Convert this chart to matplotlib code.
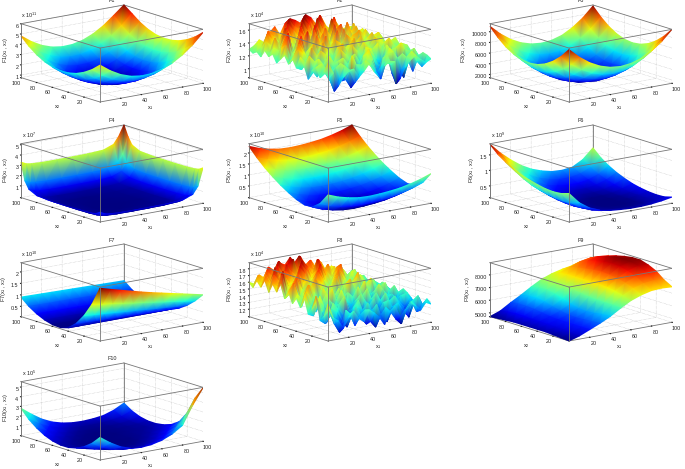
import numpy as np
import matplotlib
matplotlib.use('Agg')
import matplotlib.pyplot as plt
from matplotlib.collections import TriMesh
from matplotlib.tri import Triangulation
from mpl_toolkits.mplot3d import proj3d

plt.rcParams['font.family'] = ['Liberation Sans', 'DejaVu Sans']
plt.rcParams['mathtext.default'] = 'regular'
plt.rcParams['grid.color'] = '#aaaaaa'
plt.rcParams['grid.linestyle'] = ':'
plt.rcParams['grid.linewidth'] = 0.35

# grids: smooth panels 11 points, noisy ones 21, F4 packed towards its steep edges
x_smooth = [0, 10, 20, 30, 40, 50, 60, 70, 80, 90, 100]
x_noisy = [0, 5, 10, 15, 20, 25, 30, 35, 40, 45, 50, 55, 60, 65, 70, 75, 80, 85, 90, 95, 100]
x_f4 = [0, 5, 10, 20, 35, 50, 65, 80, 90, 95, 100]
xy_ticks = [20, 40, 60, 80, 100]

# rows are x2 = 0..100, columns x1 = 0..100, in the units of the z ticks
f1 = [[4.34, 3.61, 3.06, 2.71, 2.56, 2.60, 2.83, 3.26, 3.88, 4.69, 5.70],
      [3.67, 2.94, 2.39, 2.04, 1.89, 1.93, 2.16, 2.59, 3.21, 4.02, 5.03],
      [3.17, 2.44, 1.89, 1.54, 1.39, 1.43, 1.66, 2.09, 2.71, 3.52, 4.53],
      [2.82, 2.09, 1.54, 1.19, 1.04, 1.08, 1.31, 1.74, 2.36, 3.17, 4.18],
      [2.63, 1.90, 1.35, 1.00, 0.85, 0.89, 1.12, 1.55, 2.17, 2.98, 3.99],
      [2.60, 1.87, 1.32, 0.97, 0.82, 0.86, 1.09, 1.52, 2.14, 2.95, 3.96],
      [2.72, 1.99, 1.44, 1.09, 0.94, 0.98, 1.21, 1.64, 2.26, 3.07, 4.08],
      [3.01, 2.28, 1.73, 1.38, 1.23, 1.27, 1.50, 1.93, 2.55, 3.36, 4.37],
      [3.45, 2.72, 2.17, 1.82, 1.67, 1.71, 1.94, 2.37, 2.99, 3.80, 4.81],
      [4.05, 3.32, 2.77, 2.42, 2.27, 2.31, 2.54, 2.97, 3.59, 4.40, 5.41],
      [4.81, 4.08, 3.53, 3.18, 3.03, 3.07, 3.30, 3.73, 4.35, 5.16, 6.00]]

f2 = [[1.46, 1.3, 1.08, 1.2, 1.28, 1.3, 1.16, 1.24, 1.34, 1.2, 1.1, 1.26, 1.32, 1.3, 1.02, 1.18, 1.28, 1.34, 1.26, 1.2, 1.24],
      [1.32, 1.2, 0.98, 1.16, 1.34, 1.26, 1.06, 1.2, 1.36, 1.28, 1.18, 1.04, 1.28, 1.24, 0.92, 1.12, 1.3, 1.38, 1.22, 1.12, 1.28],
      [1.2, 1.26, 1.12, 1.3, 1.36, 1.1, 0.96, 1.3, 1.28, 1.34, 1.32, 1.12, 1.2, 1.36, 1.06, 1.28, 1.34, 1.24, 1.04, 1.26, 1.3],
      [1.34, 1.38, 1.28, 1.24, 1.18, 1.06, 1.24, 1.42, 1.12, 1.22, 1.4, 1.3, 1.08, 1.3, 1.34, 1.36, 1.1, 0.94, 1.2, 1.36, 1.22],
      [1.28, 1.16, 1.32, 1.14, 1.28, 1.34, 1.38, 1.26, 1.02, 1.16, 1.36, 1.44, 1.22, 1.14, 1.28, 1.4, 1.18, 1.08, 1.34, 1.3, 1.18],
      [1.12, 1.22, 1.4, 1.3, 1.42, 1.3, 1.2, 1.12, 1.3, 1.38, 1.24, 1.28, 1.36, 1.26, 1.04, 1.24, 1.34, 1.36, 1.42, 1.2, 1.26],
      [1.3, 1.44, 1.34, 1.18, 1.26, 1.12, 1.34, 1.46, 1.36, 1.24, 1.1, 1.2, 1.42, 1.38, 1.2, 1.16, 1.4, 1.24, 1.28, 1.38, 1.34],
      [1.42, 1.32, 1.16, 1.28, 1.46, 1.38, 1.22, 1.3, 1.18, 1.34, 1.46, 1.36, 1.26, 1.16, 1.34, 1.42, 1.3, 1.12, 1.36, 1.3, 1.2],
      [1.24, 1.2, 1.3, 1.5, 1.36, 1.18, 1.4, 1.24, 1.44, 1.48, 1.3, 1.18, 1.32, 1.44, 1.36, 1.26, 1.2, 1.38, 1.44, 1.22, 1.32],
      [1.36, 1.48, 1.42, 1.3, 1.2, 1.32, 1.52, 1.36, 1.28, 1.2, 1.36, 1.42, 1.5, 1.3, 1.18, 1.34, 1.46, 1.4, 1.26, 1.36, 1.4],
      [1.26, 1.34, 1.54, 1.4, 1.28, 1.5, 1.3, 1.26, 1.38, 1.5, 1.44, 1.28, 1.24, 1.4, 1.48, 1.36, 1.24, 1.32, 1.42, 1.28, 1.3],
      [1.38, 1.24, 1.36, 1.58, 1.34, 1.42, 1.24, 1.44, 1.56, 1.36, 1.26, 1.36, 1.52, 1.44, 1.3, 1.22, 1.4, 1.48, 1.3, 1.34, 1.22],
      [1.3, 1.5, 1.28, 1.4, 1.6, 1.28, 1.38, 1.56, 1.3, 1.26, 1.42, 1.58, 1.34, 1.28, 1.46, 1.5, 1.34, 1.26, 1.4, 1.44, 1.32],
      [1.22, 1.44, 1.6, 1.32, 1.36, 1.46, 1.62, 1.34, 1.42, 1.54, 1.32, 1.4, 1.3, 1.56, 1.38, 1.3, 1.5, 1.4, 1.28, 1.3, 1.26],
      [1.34, 1.28, 1.46, 1.62, 1.3, 1.54, 1.4, 1.3, 1.6, 1.4, 1.5, 1.34, 1.62, 1.36, 1.28, 1.48, 1.3, 1.36, 1.46, 1.34, 1.3],
      [1.28, 1.4, 1.34, 1.5, 1.44, 1.3, 1.58, 1.48, 1.34, 1.64, 1.36, 1.56, 1.42, 1.5, 1.58, 1.36, 1.44, 1.5, 1.3, 1.26, 1.36],
      [1.36, 1.3, 1.52, 1.36, 1.64, 1.42, 1.34, 1.62, 1.44, 1.38, 1.6, 1.44, 1.34, 1.66, 1.4, 1.3, 1.56, 1.34, 1.38, 1.42, 1.24],
      [1.24, 1.46, 1.38, 1.3, 1.48, 1.6, 1.46, 1.36, 1.66, 1.52, 1.42, 1.68, 1.5, 1.42, 1.56, 1.46, 1.36, 1.28, 1.5, 1.3, 1.32],
      [1.3, 1.36, 1.54, 1.44, 1.34, 1.42, 1.64, 1.54, 1.42, 1.68, 1.58, 1.38, 1.62, 1.54, 1.36, 1.62, 1.3, 1.42, 1.34, 1.36, 1.28],
      [1.26, 1.4, 1.3, 1.56, 1.46, 1.36, 1.5, 1.68, 1.56, 1.5, 1.69, 1.6, 1.46, 1.66, 1.48, 1.4, 1.52, 1.38, 1.28, 1.4, 1.3],
      [1.3, 1.34, 1.42, 1.36, 1.5, 1.58, 1.44, 1.6, 1.66, 1.62, 1.56, 1.68, 1.62, 1.5, 1.6, 1.44, 1.36, 1.46, 1.34, 1.3, 1.26]]

f3 = [[11.2, 9.44, 8.06, 7.08, 6.5, 6.3, 6.5, 7.08, 8.15, 9.6, 11.5],
      [9.47, 7.71, 6.33, 5.35, 4.77, 4.57, 4.77, 5.35, 6.42, 7.87, 9.77],
      [8.13, 6.37, 4.99, 4.01, 3.43, 3.23, 3.43, 4.01, 5.08, 6.53, 8.43],
      [7.17, 5.41, 4.03, 3.05, 2.47, 2.27, 2.47, 3.05, 4.12, 5.57, 7.47],
      [6.59, 4.83, 3.45, 2.47, 1.89, 1.69, 1.89, 2.47, 3.54, 4.99, 6.89],
      [6.4, 4.64, 3.26, 2.28, 1.7, 1.5, 1.7, 2.28, 3.35, 4.8, 6.7],
      [6.59, 4.83, 3.45, 2.47, 1.89, 1.69, 1.89, 2.47, 3.54, 4.99, 6.89],
      [7.17, 5.41, 4.03, 3.05, 2.47, 2.27, 2.47, 3.05, 4.12, 5.57, 7.47],
      [8.1, 6.34, 4.96, 3.98, 3.4, 3.2, 3.4, 3.98, 5.05, 6.5, 8.4],
      [9.4, 7.64, 6.26, 5.28, 4.7, 4.5, 4.7, 5.28, 6.35, 7.8, 9.7],
      [11.0, 9.24, 7.86, 6.88, 6.3, 6.1, 6.3, 6.88, 7.95, 9.4, 11.3]]

f4 = [[0.8, 0.55, 0.46, 0.41, 0.4, 0.41, 0.43, 0.52, 0.9, 1.6, 3.3],
      [0.55, 0.3, 0.21, 0.16, 0.15, 0.16, 0.18, 0.27, 0.65, 1.35, 3.05],
      [0.46, 0.21, 0.12, 0.07, 0.06, 0.07, 0.09, 0.18, 0.56, 1.26, 2.96],
      [0.41, 0.16, 0.07, 0.02, 0.01, 0.02, 0.04, 0.13, 0.51, 1.21, 2.91],
      [0.4, 0.15, 0.06, 0.01, 0, 0.01, 0.03, 0.12, 0.5, 1.2, 2.9],
      [0.41, 0.16, 0.07, 0.02, 0.01, 0.02, 0.04, 0.13, 0.51, 1.21, 2.91],
      [0.43, 0.18, 0.09, 0.04, 0.03, 0.04, 0.06, 0.15, 0.53, 1.23, 2.93],
      [0.52, 0.27, 0.18, 0.13, 0.12, 0.13, 0.15, 0.24, 0.62, 1.32, 3.02],
      [0.9, 0.65, 0.56, 0.51, 0.5, 0.51, 0.53, 0.62, 1.0, 1.7, 3.4],
      [1.6, 1.35, 1.26, 1.21, 1.2, 1.21, 1.23, 1.32, 1.7, 2.4, 4.1],
      [3.3, 3.05, 2.96, 2.91, 2.9, 2.91, 2.93, 3.02, 3.4, 4.1, 5.1]]

f5 = [[1.2, 1.02, 0.9, 0.82, 0.8, 0.82, 0.86, 0.92, 1.02, 1.15, 1.32],
      [0.7, 0.52, 0.4, 0.32, 0.3, 0.32, 0.36, 0.42, 0.52, 0.65, 0.82],
      [0.43, 0.25, 0.13, 0.05, 0.03, 0.05, 0.09, 0.15, 0.25, 0.38, 0.55],
      [0.42, 0.24, 0.12, 0.04, 0.02, 0.04, 0.08, 0.14, 0.24, 0.37, 0.54],
      [0.55, 0.37, 0.25, 0.17, 0.15, 0.17, 0.21, 0.27, 0.37, 0.5, 0.67],
      [0.75, 0.57, 0.45, 0.37, 0.35, 0.37, 0.41, 0.47, 0.57, 0.7, 0.87],
      [0.98, 0.8, 0.68, 0.6, 0.58, 0.6, 0.64, 0.7, 0.8, 0.93, 1.1],
      [1.25, 1.07, 0.95, 0.87, 0.85, 0.87, 0.91, 0.97, 1.07, 1.2, 1.37],
      [1.55, 1.37, 1.25, 1.17, 1.15, 1.17, 1.21, 1.27, 1.37, 1.5, 1.67],
      [1.9, 1.72, 1.6, 1.52, 1.5, 1.52, 1.56, 1.62, 1.72, 1.85, 2.02],
      [2.3, 2.12, 2.0, 1.92, 1.9, 1.92, 1.96, 2.02, 2.12, 2.25, 2.42]]

f6 = [[1.04, 0.68, 0.45, 0.32, 0.25, 0.22, 0.2, 0.2, 0.22, 0.26, 0.32],
      [0.96, 0.6, 0.38, 0.25, 0.18, 0.15, 0.14, 0.14, 0.16, 0.2, 0.25],
      [0.94, 0.58, 0.36, 0.23, 0.16, 0.13, 0.12, 0.12, 0.14, 0.19, 0.24],
      [0.96, 0.6, 0.37, 0.23, 0.15, 0.12, 0.12, 0.12, 0.14, 0.2, 0.26],
      [1.01, 0.64, 0.4, 0.25, 0.16, 0.13, 0.12, 0.12, 0.15, 0.21, 0.3],
      [1.08, 0.7, 0.45, 0.29, 0.2, 0.15, 0.13, 0.14, 0.17, 0.25, 0.36],
      [1.16, 0.78, 0.52, 0.36, 0.25, 0.19, 0.17, 0.17, 0.21, 0.3, 0.45],
      [1.28, 0.9, 0.63, 0.45, 0.32, 0.26, 0.22, 0.22, 0.27, 0.38, 0.56],
      [1.42, 1.05, 0.78, 0.58, 0.43, 0.35, 0.31, 0.31, 0.36, 0.48, 0.7],
      [1.6, 1.25, 0.97, 0.75, 0.58, 0.48, 0.42, 0.42, 0.48, 0.62, 0.88],
      [1.84, 1.5, 1.22, 0.98, 0.8, 0.68, 0.6, 0.58, 0.62, 0.8, 1.12]]

f7 = [[2.35, 2.22, 2.1, 1.98, 1.86, 1.75, 1.65, 1.55, 1.45, 1.35, 1.25],
      [1.55, 1.48, 1.42, 1.35, 1.28, 1.22, 1.15, 1.08, 1.02, 0.95, 0.88],
      [0.95, 0.91, 0.88, 0.84, 0.8, 0.77, 0.73, 0.69, 0.66, 0.62, 0.58],
      [0.5, 0.49, 0.47, 0.46, 0.44, 0.43, 0.41, 0.4, 0.38, 0.37, 0.35],
      [0.2, 0.2, 0.2, 0.2, 0.2, 0.2, 0.2, 0.2, 0.2, 0.2, 0.2],
      [0.1, 0.1, 0.1, 0.11, 0.11, 0.11, 0.11, 0.11, 0.12, 0.12, 0.12],
      [0.12, 0.12, 0.12, 0.11, 0.11, 0.11, 0.11, 0.11, 0.1, 0.1, 0.1],
      [0.22, 0.21, 0.21, 0.2, 0.2, 0.19, 0.18, 0.18, 0.17, 0.17, 0.16],
      [0.38, 0.37, 0.36, 0.36, 0.35, 0.34, 0.33, 0.33, 0.32, 0.31, 0.3],
      [0.6, 0.59, 0.58, 0.58, 0.57, 0.56, 0.55, 0.54, 0.54, 0.53, 0.52],
      [0.9, 0.89, 0.88, 0.87, 0.86, 0.85, 0.84, 0.83, 0.82, 0.81, 0.8]]

f8 = [[1.64, 1.42, 1.36, 1.24, 1.38, 1.46, 1.34, 1.28, 1.44, 1.38, 1.3, 1.18, 1.36, 1.42, 1.26, 1.34, 1.44, 1.38, 1.3, 1.4, 1.36],
      [1.44, 1.52, 1.3, 1.16, 1.3, 1.4, 1.22, 1.36, 1.42, 1.24, 1.14, 1.3, 1.4, 1.32, 1.2, 1.12, 1.32, 1.42, 1.26, 1.34, 1.42],
      [1.36, 1.3, 1.42, 1.34, 1.22, 1.44, 1.36, 1.46, 1.28, 1.18, 1.36, 1.44, 1.26, 1.16, 1.36, 1.4, 1.28, 1.2, 1.4, 1.46, 1.3],
      [1.7, 1.46, 1.28, 1.46, 1.4, 1.26, 1.16, 1.34, 1.42, 1.36, 1.46, 1.24, 1.3, 1.42, 1.44, 1.26, 1.38, 1.3, 1.14, 1.34, 1.38],
      [1.5, 1.62, 1.42, 1.3, 1.52, 1.42, 1.3, 1.22, 1.4, 1.5, 1.3, 1.38, 1.48, 1.3, 1.24, 1.4, 1.46, 1.36, 1.28, 1.38, 1.3],
      [1.4, 1.36, 1.56, 1.48, 1.32, 1.3, 1.46, 1.56, 1.32, 1.36, 1.26, 1.44, 1.36, 1.26, 1.4, 1.5, 1.3, 1.24, 1.42, 1.44, 1.36],
      [1.62, 1.48, 1.4, 1.6, 1.38, 1.5, 1.42, 1.34, 1.48, 1.3, 1.44, 1.52, 1.3, 1.42, 1.5, 1.34, 1.28, 1.44, 1.36, 1.3, 1.42],
      [1.46, 1.66, 1.46, 1.36, 1.44, 1.58, 1.3, 1.46, 1.6, 1.42, 1.36, 1.3, 1.46, 1.56, 1.36, 1.3, 1.5, 1.4, 1.26, 1.42, 1.46],
      [1.58, 1.44, 1.64, 1.52, 1.4, 1.36, 1.54, 1.62, 1.38, 1.3, 1.52, 1.44, 1.58, 1.34, 1.28, 1.46, 1.56, 1.3, 1.44, 1.5, 1.34],
      [1.48, 1.6, 1.5, 1.7, 1.5, 1.44, 1.62, 1.42, 1.46, 1.58, 1.46, 1.34, 1.4, 1.5, 1.62, 1.4, 1.34, 1.5, 1.54, 1.34, 1.42],
      [1.64, 1.74, 1.46, 1.58, 1.68, 1.56, 1.4, 1.5, 1.62, 1.42, 1.36, 1.6, 1.66, 1.44, 1.38, 1.54, 1.62, 1.36, 1.4, 1.46, 1.38],
      [1.52, 1.58, 1.72, 1.5, 1.46, 1.6, 1.72, 1.54, 1.4, 1.56, 1.68, 1.5, 1.42, 1.56, 1.64, 1.42, 1.38, 1.52, 1.44, 1.5, 1.4],
      [1.72, 1.5, 1.62, 1.76, 1.6, 1.48, 1.56, 1.68, 1.62, 1.48, 1.58, 1.7, 1.48, 1.4, 1.56, 1.68, 1.48, 1.4, 1.54, 1.38, 1.44],
      [1.58, 1.82, 1.54, 1.64, 1.74, 1.54, 1.66, 1.5, 1.76, 1.64, 1.46, 1.6, 1.74, 1.58, 1.44, 1.5, 1.6, 1.52, 1.4, 1.48, 1.42],
      [1.68, 1.62, 1.84, 1.6, 1.52, 1.76, 1.62, 1.56, 1.66, 1.78, 1.6, 1.5, 1.62, 1.7, 1.58, 1.46, 1.42, 1.58, 1.48, 1.42, 1.38],
      [1.54, 1.78, 1.68, 1.74, 1.62, 1.6, 1.82, 1.72, 1.54, 1.62, 1.82, 1.64, 1.52, 1.66, 1.76, 1.5, 1.56, 1.44, 1.54, 1.4, 1.46],
      [1.7, 1.64, 1.86, 1.62, 1.78, 1.7, 1.58, 1.84, 1.74, 1.6, 1.7, 1.76, 1.66, 1.56, 1.7, 1.58, 1.46, 1.6, 1.44, 1.5, 1.42],
      [1.58, 1.74, 1.6, 1.8, 1.66, 1.84, 1.72, 1.64, 1.86, 1.76, 1.62, 1.84, 1.58, 1.74, 1.6, 1.48, 1.62, 1.5, 1.56, 1.44, 1.48],
      [1.66, 1.6, 1.76, 1.68, 1.82, 1.7, 1.8, 1.88, 1.7, 1.8, 1.72, 1.66, 1.8, 1.62, 1.54, 1.66, 1.52, 1.46, 1.52, 1.56, 1.4],
      [1.54, 1.7, 1.64, 1.8, 1.72, 1.86, 1.76, 1.82, 1.78, 1.88, 1.68, 1.78, 1.64, 1.74, 1.6, 1.5, 1.6, 1.54, 1.44, 1.5, 1.46],
      [1.6, 1.56, 1.68, 1.62, 1.76, 1.7, 1.8, 1.76, 1.86, 1.74, 1.84, 1.7, 1.76, 1.64, 1.7, 1.56, 1.62, 1.48, 1.54, 1.42, 1.5]]

f9 = [[4.7, 4.95, 5.3, 5.65, 6.05, 6.55, 7.0, 7.3, 7.5, 7.55, 7.5],
      [4.75, 5.0, 5.3, 5.6, 6.0, 6.6, 7.2, 7.6, 7.85, 7.95, 7.85],
      [4.8, 5.05, 5.3, 5.55, 5.9, 6.6, 7.35, 7.85, 8.2, 8.4, 8.35],
      [4.85, 5.05, 5.3, 5.5, 5.85, 6.6, 7.45, 8.0, 8.45, 8.7, 8.65],
      [4.85, 5.1, 5.3, 5.55, 5.9, 6.65, 7.5, 8.1, 8.6, 8.85, 8.85],
      [4.85, 5.1, 5.35, 5.65, 6.05, 6.75, 7.5, 8.15, 8.65, 8.9, 8.85],
      [4.85, 5.1, 5.45, 5.8, 6.25, 6.85, 7.5, 8.1, 8.6, 8.85, 8.75],
      [4.85, 5.15, 5.55, 6.0, 6.45, 7.0, 7.5, 8.0, 8.45, 8.7, 8.6],
      [4.8, 5.15, 5.6, 6.1, 6.6, 7.05, 7.5, 7.9, 8.3, 8.5, 8.4],
      [4.75, 5.1, 5.6, 6.05, 6.55, 7.05, 7.45, 7.75, 8.05, 8.2, 8.1],
      [4.7, 5.0, 5.5, 5.95, 6.45, 6.9, 7.2, 7.4, 7.55, 7.6, 7.5]]

f10 = [[2.3, 1.55, 0.95, 0.6, 0.5, 0.6, 0.85, 1.3, 2.0, 3.9, 5.5],
       [1.45, 0.85, 0.45, 0.25, 0.2, 0.25, 0.4, 0.7, 1.3, 2.4, 4.2],
       [0.85, 0.42, 0.18, 0.07, 0.05, 0.08, 0.18, 0.36, 0.7, 1.25, 2.4],
       [0.45, 0.2, 0.07, 0.02, 0, 0.02, 0.08, 0.18, 0.38, 0.7, 1.25],
       [0.25, 0.1, 0.03, 0, 0, 0, 0.04, 0.1, 0.2, 0.38, 0.7],
       [0.25, 0.12, 0.04, 0.01, 0, 0, 0.03, 0.07, 0.12, 0.22, 0.42],
       [0.42, 0.22, 0.1, 0.04, 0.01, 0, 0.02, 0.05, 0.1, 0.15, 0.3],
       [0.75, 0.42, 0.22, 0.1, 0.04, 0.02, 0.03, 0.05, 0.1, 0.16, 0.32],
       [1.25, 0.75, 0.42, 0.22, 0.1, 0.06, 0.05, 0.08, 0.14, 0.24, 0.5],
       [1.9, 1.25, 0.75, 0.42, 0.24, 0.14, 0.12, 0.15, 0.24, 0.42, 0.85],
       [2.8, 2.0, 1.3, 0.8, 0.5, 0.34, 0.3, 0.36, 0.5, 0.85, 1.4]]

names = ['F1', 'F2', 'F3', 'F4', 'F5', 'F6', 'F7', 'F8', 'F9', 'F10']
tables = [f1, f2, f3, f4, f5, f6, f7, f8, f9, f10]
grids = [x_smooth, x_noisy, x_smooth, x_f4, x_smooth, x_smooth, x_smooth, x_noisy, x_smooth, x_smooth]
zlims = [(0.75, 6), (0.86, 1.70), (1.4, 11.5), (-0.15, 5.1), (-0.03, 2.42),
         (0.12, 1.86), (0.05, 2.4), (1.09, 1.89), (4.7, 8.96), (-0.03, 5.55)]
zticks = [[1, 2, 3, 4, 5, 6], [1, 1.2, 1.4, 1.6], [2, 4, 6, 8, 10], [1, 2, 3, 4, 5], [0.5, 1, 1.5, 2],
          [0.5, 1, 1.5], [0.5, 1, 1.5, 2], [1.2, 1.3, 1.4, 1.5, 1.6, 1.7, 1.8], [5, 6, 7, 8], [1, 2, 3, 4, 5]]
zticklabels = [['1', '2', '3', '4', '5', '6'], ['1', '1.2', '1.4', '1.6'],
               ['2000', '4000', '6000', '8000', '10000'], ['1', '2', '3', '4', '5'],
               ['0.5', '1', '1.5', '2'], ['0.5', '1', '1.5'], ['0.5', '1', '1.5', '2'],
               ['1.2', '1.3', '1.4', '1.5', '1.6', '1.7', '1.8'], ['5000', '6000', '7000', '8000'],
               ['1', '2', '3', '4', '5']]
exponents = ['11', '4', None, '7', '10', '9', '10', '4', None, '5']

# pixel position of the front bottom corner of each box, and z label offset
front_x = [100, 328, 569, 100, 328, 569, 100, 328, 569, 100]
front_y = [102, 102, 102, 222, 222, 222, 341, 341, 341, 460]
zlabel_dx = [-94, -98, -106, -94, -98, -97, -96, -98, -102, -94]

W, H = 685, 469
TXT = 3.9
LINE = '#777777'

fig = plt.figure(figsize=(W / 100, H / 100), dpi=100)


def px_text(x, y, s, **kw):
    fig.text(x / W, 1 - y / H, s, fontsize=TXT, ha='center', va='center', color='#222222', **kw)


def add_smooth_surface(ax, grid, table):
    # plot_surface only does flat facets, so project the same grid and let gouraud blend the colours
    X, Y = np.meshgrid(grid, grid)
    Z = np.array(table, dtype=float)
    xs, ys, zs = proj3d.proj_transform(X.ravel(), Y.ravel(), Z.ravel(), ax.get_proj())
    n = len(grid)
    tris = []
    for r in range(n - 1):
        for c in range(n - 1):
            a, b, d, e = r * n + c, r * n + c + 1, (r + 1) * n + c, (r + 1) * n + c + 1
            tris.append([a, b, e])
            tris.append([a, e, d])
    tris = np.array(tris)
    # far triangles first
    order = np.argsort(-zs[tris].mean(axis=1))
    mesh = TriMesh(Triangulation(xs, ys, tris[order]), cmap='jet', zorder=2)
    mesh.set_array(Z.ravel())
    mesh.set_clim(Z.min(), Z.max())
    mesh.set_transform(ax.transData)
    mesh.do_3d_projection = lambda: 0
    ax.add_collection(mesh, autolim=False)


axes = []
for i in range(10):
    ax = fig.add_axes([0.1, 0.1, 0.3, 0.3], projection='3d', proj_type='ortho', computed_zorder=False)
    ax.view_init(elev=13.7, azim=-127.5)
    ax.set_box_aspect((1, 1, 0.4275))
    ax.patch.set_alpha(0)
    zlo, zhi = zlims[i]
    ax.set_xlim(0, 100)
    ax.set_ylim(0, 100)
    ax.set_zlim(zlo, zhi)
    add_smooth_surface(ax, grids[i], tables[i])
    ax.set_xticks(xy_ticks)
    ax.set_yticks(xy_ticks)
    ax.set_zticks(zticks[i])
    ax.set_zticklabels(zticklabels[i], ha='right')
    ax.tick_params(axis='x', labelsize=TXT, pad=-4.5, colors='#222222', length=0)
    ax.tick_params(axis='y', labelsize=TXT, pad=-5, colors='#222222', length=0)
    ax.tick_params(axis='z', labelsize=TXT, pad=-7, colors='#222222', length=0)
    for axis in (ax.xaxis, ax.yaxis, ax.zaxis):
        axis.pane.set_facecolor('white')
        axis.pane.set_edgecolor('none')
        axis.line.set_color(LINE)
        axis.line.set_linewidth(0.6)
        axis._axinfo['tick']['inward_factor'] = 0.05
        axis._axinfo['tick']['outward_factor'] = 0
    ax.zaxis.set_ticks_position('upper')

    # box: back edges behind the surface, top and front edges over it
    kw = dict(color=LINE, lw=0.6)
    ax.plot([100, 100], [100, 100], [zlo, zhi], zorder=1, **kw)
    ax.plot([0, 100], [100, 100], [zhi, zhi], zorder=1, **kw)
    ax.plot([100, 100], [0, 100], [zhi, zhi], zorder=1, **kw)
    ax.plot([0, 100], [0, 0], [zhi, zhi], zorder=3, **kw)
    ax.plot([0, 0], [0, 100], [zhi, zhi], zorder=3, **kw)
    ax.plot([0, 0], [0, 0], [zlo, zhi], zorder=3, **kw)
    ax.plot([100, 100], [0, 0], [zlo, zhi], zorder=3, color='#bbbbbb', lw=0.6)
    ax.plot([0, 0], [100, 100], [zlo, zhi], zorder=3, **kw)
    axes.append(ax)

fig.canvas.draw()

# move each box so its front corner and width land where the reference has them
for i, ax in enumerate(axes):
    M = ax.get_proj()
    xs, ys, _ = proj3d.proj_transform(np.array([0, 100]), np.array([0, 0]),
                                      np.array([zlims[i][0], zlims[i][0]]), M)
    disp = ax.transData.transform(np.column_stack([xs, ys]))
    k = 103 / (disp[1, 0] - disp[0, 0])
    bb = ax.get_position()
    left, bottom, w, h = bb.x0 * W, bb.y0 * H, bb.width * W, bb.height * H
    new_left = front_x[i] - (disp[0, 0] - left) * k
    new_bottom = (H - front_y[i]) - (disp[0, 1] - bottom) * k
    ax.set_position([new_left / W, new_bottom / H, w * k / W, h * k / H])

    fx, fy = front_x[i], front_y[i]
    px_text(fx + 12, fy - 101, names[i])
    if exponents[i]:
        px_text(fx - 71, fy - 87, 'x 10$^{%s}$' % exponents[i])
    px_text(fx + zlabel_dx[i], fy - 52, names[i] + '(x$_1$ , x$_2$)', rotation=90)
    px_text(fx + 50, fy + 6, 'x$_1$')
    px_text(fx - 43, fy + 5, 'x$_2$')

fig.savefig('out.png', dpi=100)
